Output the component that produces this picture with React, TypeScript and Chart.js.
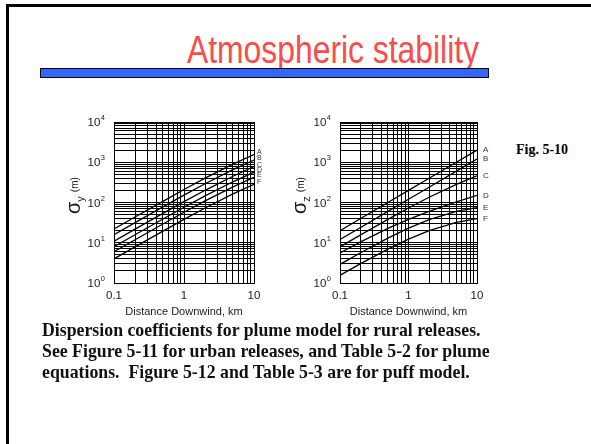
import React, { useEffect, useRef } from 'react';
import { Chart, registerables } from 'chart.js';

Chart.register(...registerables);

// ---- data ----
const distanceKm = [0.1, 0.2, 0.5, 1, 2, 5, 10];
const stabilityClasses = ['A', 'B', 'C', 'D', 'E', 'F'];

const sigmaY_A = [21.9, 43.6, 107, 210, 402, 898, 1556];
const sigmaY_B = [15.9, 31.7, 78.1, 153, 292, 653, 1131];
const sigmaY_C = [10.9, 21.8, 53.7, 105, 201, 449, 778];
const sigmaY_D = [7.96, 15.8, 39.0, 76.3, 146, 327, 566];
const sigmaY_E = [5.97, 11.9, 29.3, 57.2, 110, 245, 424];
const sigmaY_F = [3.98, 7.92, 19.5, 38.1, 73.0, 163, 283];

const sigmaZ_A = [20, 40, 100, 200, 400, 1000, 2000];
const sigmaZ_B = [12, 24, 60, 120, 240, 600, 1200];
const sigmaZ_C = [7.92, 15.7, 38.1, 73.0, 135, 283, 462];
const sigmaZ_D = [5.59, 10.5, 22.7, 38.0, 60.0, 103, 150];
const sigmaZ_E = [2.91, 5.66, 13.0, 23.1, 37.5, 60.0, 75.0];
const sigmaZ_F = [1.55, 3.02, 6.96, 12.3, 20.0, 32.0, 40.0];

const xGridKm = [0.1, 0.2, 0.3, 0.4, 0.5, 0.6, 0.7, 0.8, 0.9, 1, 2, 3, 4, 5, 6, 7, 8, 9, 10];
const yGridM = [
  1, 2, 3, 4, 5, 6, 7, 8, 9,
  10, 20, 30, 40, 50, 60, 70, 80, 90,
  100, 200, 300, 400, 500, 600, 700, 800, 900,
  1000, 2000, 3000, 4000, 5000, 6000, 7000, 8000, 9000,
  10000,
];
const xTickLabels = ['0.1', '1', '10'];
const yTickExponents = ['0', '1', '2', '3', '4'];

const sigmaYSeries = [sigmaY_A, sigmaY_B, sigmaY_C, sigmaY_D, sigmaY_E, sigmaY_F];
const sigmaZSeries = [sigmaZ_A, sigmaZ_B, sigmaZ_C, sigmaZ_D, sigmaZ_E, sigmaZ_F];

type PlotCfg = {
  series: number[][];
  sub: string;
  labelFont: number;
  labelDx: number;
  labelDy: number;
  padding: { left: number; right: number; top: number; bottom: number };
};

function makeDecor(cfg: PlotCfg) {
  return {
    id: 'decor',
    afterDraw(chart: any) {
      const { ctx, chartArea: ca, scales } = chart;
      const xs = scales.x;
      const ys = scales.y;
      ctx.save();
      ctx.fillStyle = '#1a1a1a';
      // x tick labels
      ctx.font = '11.5px Arial, "Liberation Sans", sans-serif';
      ctx.textAlign = 'center';
      ctx.textBaseline = 'middle';
      xTickLabels.forEach((t) => {
        ctx.fillText(t, xs.getPixelForValue(parseFloat(t)), ca.bottom + 13);
      });
      // x title
      ctx.font = '11px Arial, "Liberation Sans", sans-serif';
      ctx.fillText('Distance Downwind, km', (ca.left + ca.right) / 2, ca.bottom + 29);
      // y tick labels 10^n
      yTickExponents.forEach((e) => {
        const y = ys.getPixelForValue(Math.pow(10, Number(e)));
        const right = ca.left - 9;
        ctx.textAlign = 'right';
        ctx.textBaseline = 'middle';
        ctx.font = '7.5px Arial, "Liberation Sans", sans-serif';
        ctx.fillText(e, right, y - 4);
        const w = ctx.measureText(e).width;
        ctx.font = '11.5px Arial, "Liberation Sans", sans-serif';
        ctx.fillText('10', right - w - 0.5, y + 1);
      });
      // y title: sigma_sub (m), rotated
      ctx.save();
      ctx.translate(ca.left - 34, ca.top + 92);
      ctx.rotate(-Math.PI / 2);
      ctx.textAlign = 'left';
      ctx.textBaseline = 'alphabetic';
      ctx.font = '20px Arial, "Liberation Sans", sans-serif';
      ctx.fillText('σ', 0, 0);
      let adv = ctx.measureText('σ').width;
      ctx.font = '11px Arial, "Liberation Sans", sans-serif';
      ctx.fillText(cfg.sub, adv, 4);
      adv += ctx.measureText(cfg.sub).width + 4;
      ctx.font = '10px Arial, "Liberation Sans", sans-serif';
      ctx.fillText('(m)', adv, -2);
      ctx.restore();
      // curve labels
      ctx.fillStyle = '#333';
      ctx.font = `${cfg.labelFont}px Arial, "Liberation Sans", sans-serif`;
      ctx.textAlign = 'left';
      ctx.textBaseline = 'middle';
      cfg.series.forEach((s, i) => {
        const y = ys.getPixelForValue(s[s.length - 1]);
        ctx.fillText(stabilityClasses[i], ca.right + cfg.labelDx, y + cfg.labelDy);
      });
      ctx.restore();
    },
  };
}

function LogPlot(props: { cfg: PlotCfg; style: React.CSSProperties; width: number; height: number }) {
  const ref = useRef<HTMLCanvasElement | null>(null);
  useEffect(() => {
    if (!ref.current) return;
    const { cfg } = props;
    const chart = new Chart(ref.current, {
      type: 'line',
      data: {
        datasets: cfg.series.map((s, i) => ({
          label: stabilityClasses[i],
          data: s.map((v, j) => ({ x: distanceKm[j], y: v })),
          borderColor: '#000',
          borderWidth: 1.3,
          pointRadius: 0,
          tension: 0,
          fill: false,
        })),
      },
      options: {
        responsive: false,
        animation: false,
        events: [],
        layout: { padding: cfg.padding },
        plugins: { legend: { display: false }, tooltip: { enabled: false }, title: { display: false } },
        scales: {
          x: {
            type: 'logarithmic',
            min: 0.1,
            max: 10,
            afterBuildTicks: (scale: any) => {
              scale.ticks = xGridKm.map((v) => ({ value: v }));
            },
            ticks: { display: false },
            grid: { color: '#000', lineWidth: 1, drawTicks: false },
            border: { display: true, color: '#000', width: 1 },
          },
          y: {
            type: 'logarithmic',
            min: 1,
            max: 10000,
            afterBuildTicks: (scale: any) => {
              scale.ticks = yGridM.map((v) => ({ value: v }));
            },
            ticks: { display: false },
            grid: { color: '#000', lineWidth: 1, drawTicks: false },
            border: { display: true, color: '#000', width: 1 },
          },
        },
      },
      plugins: [makeDecor(cfg)],
    });
    return () => chart.destroy();
  }, []);
  return <canvas ref={ref} width={props.width} height={props.height} style={props.style} />;
}

export default function App() {
  const cfgY: PlotCfg = {
    series: sigmaYSeries,
    sub: 'y',
    labelFont: 7,
    labelDx: 3,
    labelDy: -2,
    padding: { left: 54, right: 26, top: 22, bottom: 47 },
  };
  const cfgZ: PlotCfg = {
    series: sigmaZSeries,
    sub: 'z',
    labelFont: 8,
    labelDx: 6,
    labelDy: 0,
    padding: { left: 55, right: 28, top: 22, bottom: 47 },
  };
  return (
    <div style={{ position: 'absolute', left: 0, top: 0, width: 591, height: 444, overflow: 'hidden', background: '#fff' }}>
      <div style={{ position: 'absolute', left: 6, top: 4, width: 620, height: 480, border: '3px solid #000', boxSizing: 'border-box' }} />
      <div
        style={{
          position: 'absolute', left: 187, top: 31, fontFamily: 'Arial, "Liberation Sans", sans-serif', fontSize: 38,
          lineHeight: '38px', color: '#FF4A4A', whiteSpace: 'nowrap', transform: 'scaleX(0.838)', transformOrigin: 'left top',
        }}
      >
        Atmospheric stability
      </div>
      <div style={{ position: 'absolute', left: 40, top: 68, width: 449, height: 10, background: '#3366FF', border: '1px solid #000', boxSizing: 'border-box' }} />
      <LogPlot cfg={cfgY} width={220} height={230} style={{ position: 'absolute', left: 60, top: 100 }} />
      <LogPlot cfg={cfgZ} width={220} height={230} style={{ position: 'absolute', left: 285, top: 100 }} />
      <div
        style={{
          position: 'absolute', left: 516, top: 143, fontFamily: '"Times New Roman", "Liberation Serif", serif', fontWeight: 'bold',
          fontSize: 14, lineHeight: '14px', color: '#000', whiteSpace: 'nowrap',
        }}
      >
        Fig. 5-10
      </div>
      <div
        style={{
          position: 'absolute', left: 42, top: 320, fontFamily: '"Times New Roman", "Liberation Serif", serif', fontWeight: 'bold',
          fontSize: 17.8, lineHeight: '21px', color: '#111', whiteSpace: 'nowrap',
        }}
      >
        <div>Dispersion coefficients for plume model for rural releases.</div>
        <div>See Figure 5-11 for urban releases, and Table 5-2 for plume</div>
        <div>equations.&nbsp; Figure 5-12 and Table 5-3 are for puff model.</div>
      </div>
    </div>
  );
}
